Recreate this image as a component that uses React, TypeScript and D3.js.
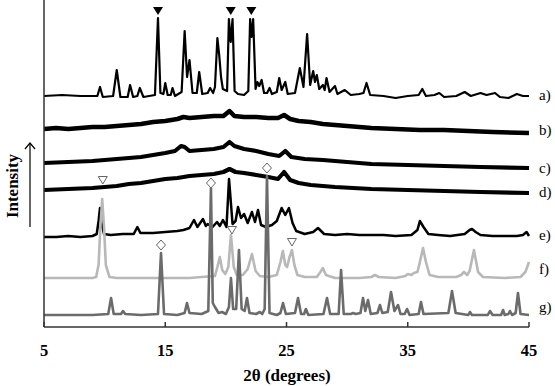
import React from "react";
import * as d3 from "d3";

type P = [number, number];

const thetaTicks = [5, 15, 25, 35, 45];
const traceLabels = ["a)", "b)", "c)", "d)", "e)", "f)", "g)"];
const labelIntensity = [232, 197, 159, 135, 92, 58, 20];

const traceA: P[] = [
  [5, 231], [6.5, 232], [8, 231], [9.4, 231], [9.62, 240], [9.85, 230],
  [10.7, 231], [11.0, 257], [11.3, 230],
  [11.9, 230], [12.1, 242], [12.35, 230],
  [12.7, 231], [12.9, 239], [13.2, 230],
  [14.15, 232], [14.4, 309], [14.6, 234], [14.85, 233], [15.0, 244], [15.2, 232],
  [15.45, 232], [15.6, 239], [15.8, 231],
  [16.35, 235], [16.6, 296], [16.8, 250], [17.0, 267], [17.25, 234],
  [17.6, 234], [17.8, 255], [18.05, 233],
  [18.5, 234], [18.7, 239], [18.95, 234],
  [19.1, 240], [19.3, 289], [19.45, 272], [19.6, 250], [19.75, 238], [20.1, 236],
  [20.25, 308], [20.4, 285], [20.55, 308], [20.72, 236],
  [21.0, 233], [21.5, 232], [21.85, 236], [22.0, 308], [22.12, 290], [22.25, 308], [22.45, 238],
  [22.6, 245], [22.75, 241], [22.95, 247], [23.15, 234],
  [23.4, 234], [23.6, 239], [23.8, 233],
  [24.2, 235], [24.4, 249], [24.6, 237], [24.9, 245], [25.1, 233],
  [25.7, 234], [26.1, 259], [26.4, 240], [26.7, 293], [26.95, 242], [27.2, 256], [27.35, 245],
  [27.5, 252], [27.7, 238], [28.0, 242], [28.15, 237], [28.3, 249], [28.55, 235],
  [29.0, 241], [29.2, 233], [29.8, 237], [30.3, 232], [31.0, 233], [31.35, 234], [31.6, 244],
  [31.9, 232], [33, 231], [34, 229], [35, 231],
  [35.9, 232], [36.2, 238], [36.5, 231], [37.2, 232], [37.6, 234], [38.0, 230], [39.0, 231],
  [39.7, 235], [40.2, 231], [41.0, 234], [41.5, 232], [42.2, 234], [42.6, 230], [43.3, 229],
  [44.0, 233], [44.5, 231], [45, 231],
];

const traceB: P[] = [
  [5, 198], [6, 199], [7, 198], [8, 199], [9, 200], [10, 200], [11, 201], [12, 202], [13, 203],
  [14, 205], [15, 206], [16, 208], [16.5, 210], [17, 209], [18, 210], [19, 211], [19.8, 211],
  [20.3, 216], [20.7, 211], [21.5, 210], [22.5, 210], [23.5, 209], [24.3, 209], [24.8, 212],
  [25.3, 208], [26, 206], [27, 205], [28, 203], [30, 201], [32, 199], [34, 198], [36, 197],
  [38, 197], [40, 196], [42, 195], [45, 194],
];

const traceC: P[] = [
  [5, 164], [7, 165], [9, 166], [10, 167], [11, 168], [12, 169], [13, 170], [14, 172], [15, 174],
  [15.8, 176], [16.3, 181], [16.6, 180], [17, 176], [18, 177], [19, 178], [19.8, 180], [20.3, 185],
  [20.7, 181], [21.5, 178], [22.5, 176], [23.5, 173], [24.4, 171], [24.9, 176], [25.4, 170],
  [26.5, 168], [28, 167], [30, 165], [32, 163], [35, 162], [38, 161], [41, 160], [45, 159],
];

const traceD: P[] = [
  [5, 137], [7, 138], [9, 139], [10, 140], [11, 141], [12, 143], [13, 144], [14, 146], [15, 148],
  [16, 149], [17, 151], [18, 152], [19, 153], [19.8, 155], [20.3, 158], [20.8, 155], [21.5, 154],
  [22.5, 152], [23.5, 150], [24.3, 148], [24.8, 155], [25.3, 147], [26, 144], [27, 142], [29, 140],
  [32, 138], [35, 137], [38, 136], [41, 135], [45, 134],
];

const traceE: P[] = [
  [5, 90], [6, 90], [7, 91], [8, 90], [9, 91], [9.35, 93], [9.5, 106], [9.62, 119], [9.75, 104],
  [9.95, 93], [10.5, 92], [11.5, 93], [12.4, 93], [12.7, 100], [12.95, 94], [14, 94], [15, 95],
  [16, 96], [16.5, 97], [17.0, 99], [17.37, 107], [17.65, 100], [18.11, 108], [18.35, 101],
  [18.5, 103], [18.9, 100], [19.27, 105], [19.5, 101], [19.76, 107], [20.05, 100], [20.26, 148],
  [20.55, 103], [20.8, 106], [21.0, 120], [21.25, 109], [21.5, 113], [21.8, 104], [22.15, 115],
  [22.4, 105], [22.65, 117], [22.9, 102], [23.3, 100], [23.8, 102], [24.2, 106], [24.6, 119],
  [24.9, 112], [25.2, 119], [25.5, 104], [25.8, 96], [26.5, 93], [27.2, 95], [27.6, 99], [28.1, 93],
  [29, 92], [30, 93], [31, 92], [32, 92], [33, 92], [34, 91], [35.3, 92], [35.8, 97], [36.0, 106],
  [36.3, 100], [36.7, 93], [37.5, 92], [38.5, 91], [39.7, 93], [40.1, 97], [40.3, 98], [40.6, 95],
  [41, 92], [42, 91], [43, 91], [44, 91], [44.5, 92], [44.8, 95], [45, 91],
];

const traceF: P[] = [
  [5, 49], [7, 49], [9, 49], [9.3, 50], [9.5, 62], [9.65, 100], [9.8, 128], [9.95, 100], [10.1, 62],
  [10.4, 50], [11, 49], [13, 49], [15, 49], [17, 49], [18, 50], [19.1, 51], [19.3, 60], [19.5, 70],
  [19.7, 57], [19.95, 53], [20.2, 60], [20.42, 92], [20.65, 60], [20.9, 52], [21.4, 52], [21.8, 58],
  [22.15, 73], [22.45, 56], [22.8, 51], [23.5, 50], [24.2, 52], [24.5, 65], [24.7, 76], [24.9, 62],
  [25.05, 60], [25.25, 70], [25.45, 77], [25.65, 62], [25.9, 52], [26.5, 50], [27.5, 50], [27.8, 55],
  [28.0, 59], [28.25, 52], [29, 49], [31, 49], [32.0, 50], [32.3, 52], [32.6, 50], [34, 49],
  [34.8, 51], [35.0, 53], [35.3, 52], [35.5, 54], [35.8, 55], [36.0, 65], [36.26, 79], [36.5, 65],
  [36.8, 52], [37.5, 50], [39, 50], [39.4, 52], [39.64, 55], [39.9, 52], [40.1, 56], [40.46, 77],
  [40.8, 55], [41.2, 50], [43, 49], [44.3, 50], [44.7, 55], [45, 65],
];

const traceG: P[] = [
  [5, 12], [7, 12], [9, 12], [10.3, 13], [10.53, 29], [10.75, 13], [11.35, 13], [11.52, 16],
  [11.7, 13], [13, 12], [14.4, 13], [14.65, 74], [14.9, 13], [16, 12], [16.6, 14], [16.79, 24],
  [17.0, 14], [18, 13], [18.55, 16], [18.77, 139], [18.92, 24], [19.1, 20], [19.4, 14], [19.68, 15],
  [20.0, 13], [20.25, 20], [20.42, 49], [20.6, 18], [20.85, 18], [21.08, 77], [21.3, 18],
  [21.55, 16], [21.74, 29], [21.95, 14], [22.5, 13], [22.8, 15], [23.0, 13], [23.2, 18],
  [23.39, 151], [23.6, 14], [24.2, 12], [24.5, 14], [24.71, 24], [24.95, 13], [25.7, 14],
  [25.95, 29], [26.2, 13], [26.45, 13], [26.6, 18], [26.8, 12], [28.05, 13], [28.34, 29],
  [28.6, 13], [29.3, 13], [29.5, 57], [29.72, 13], [30.3, 13], [30.5, 14], [30.7, 13], [31.1, 14],
  [31.31, 29], [31.5, 16], [31.72, 27], [31.95, 13], [32.5, 14], [32.71, 22], [32.9, 14],
  [33.35, 15], [33.62, 35], [33.9, 16], [34.2, 22], [34.4, 13], [34.75, 13], [34.94, 18],
  [35.15, 12], [35.9, 13], [36.09, 25], [36.3, 13], [38.35, 14], [38.65, 36], [38.95, 14],
  [40.0, 12], [40.13, 15], [40.3, 12], [41.6, 12], [41.78, 16], [42, 12], [42.7, 12], [42.86, 17],
  [43.0, 12], [43.3, 13], [43.43, 16], [43.6, 12], [43.9, 14], [44.09, 34], [44.3, 13], [45, 12],
];

const filledMarkers = [14.4, 20.4, 22.1];
const filledMarkerLevel = 316;
const openTriangles: P[] = [[9.85, 147], [20.5, 97], [25.45, 85]];
const diamonds: P[] = [[14.65, 82], [18.77, 144], [23.39, 159]];

const traces = [
  { data: traceA, color: "#000", width: 2.2 },
  { data: traceB, color: "#000", width: 4.5 },
  { data: traceC, color: "#000", width: 4.2 },
  { data: traceD, color: "#000", width: 4.2 },
  { data: traceE, color: "#000", width: 2.5 },
  { data: traceF, color: "#b8b8b8", width: 2.6 },
  { data: traceG, color: "#6b6b6b", width: 2.6 },
];

const W = 555;
const H = 386;
const left = 44;
const right = 529;
const bottom = 327;

const serif = '"Liberation Serif", "Times New Roman", Times, "DejaVu Serif", serif';

export default function App() {
  const x = d3.scaleLinear().domain([5, 45]).range([left, right]);
  const y = d3.scaleLinear().domain([0, 327]).range([bottom, 0]);
  const line = d3
    .line<P>()
    .x((d) => x(d[0]))
    .y((d) => y(d[1]))
    .curve(d3.curveLinear);
  const tStyle = { fontFamily: serif };

  return (
    <svg
      width={W}
      height={H}
      style={{ position: "absolute", left: 0, top: 0, background: "#fff" }}
    >
      <rect width={W} height={H} fill="#fff" />
      {traces.map((t, i) => (
        <path
          key={i}
          d={line(t.data) || ""}
          fill="none"
          stroke={t.color}
          strokeWidth={t.width}
          strokeLinejoin="round"
        />
      ))}
      {filledMarkers.map((m, i) => {
        const cx = x(m);
        const cy = y(filledMarkerLevel);
        return (
          <path
            key={i}
            d={`M${cx - 5},${cy - 4}L${cx + 5},${cy - 4}L${cx},${cy + 4}Z`}
            fill="#000"
          />
        );
      })}
      {openTriangles.map((m, i) => {
        const cx = x(m[0]);
        const cy = y(m[1]);
        return (
          <path
            key={i}
            d={`M${cx - 4.5},${cy - 3.5}L${cx + 4.5},${cy - 3.5}L${cx},${cy + 4}Z`}
            fill="#fff"
            stroke="#666"
            strokeWidth={1}
          />
        );
      })}
      {diamonds.map((m, i) => {
        const cx = x(m[0]);
        const cy = y(m[1]);
        return (
          <path
            key={i}
            d={`M${cx},${cy - 5}L${cx + 4.5},${cy}L${cx},${cy + 5}L${cx - 4.5},${cy}Z`}
            fill="#fff"
            stroke="#666"
            strokeWidth={1}
          />
        );
      })}
      <line x1={left} x2={left} y1={0} y2={bottom} stroke="#333" strokeWidth={1.5} />
      <line x1={left} x2={right} y1={bottom} y2={bottom} stroke="#333" strokeWidth={1.5} />
      {thetaTicks.map((t) => (
        <g key={t}>
          <line x1={x(t)} x2={x(t)} y1={bottom} y2={bottom - 5} stroke="#333" strokeWidth={1.5} />
          <text x={x(t)} y={356} textAnchor="middle" fontWeight="bold" fontSize={16.5} style={tStyle}>
            {t}
          </text>
        </g>
      ))}
      <text x={287} y={381} textAnchor="middle" fontWeight="bold" fontSize={17} style={tStyle}>
        2θ (degrees)
      </text>
      <text
        transform="translate(18,186) rotate(-90)"
        textAnchor="middle"
        fontWeight="bold"
        fontSize={17}
        style={tStyle}
      >
        Intensity
      </text>
      <line x1={30} x2={30} y1={143} y2={227} stroke="#000" strokeWidth={1.2} />
      <path d="M25,149L30,143L35,149" fill="none" stroke="#000" strokeWidth={1.2} />
      {traceLabels.map((l, i) => (
        <text key={l} x={539} y={y(labelIntensity[i]) + 5} fontSize={15} style={tStyle}>
          {l}
        </text>
      ))}
    </svg>
  );
}
